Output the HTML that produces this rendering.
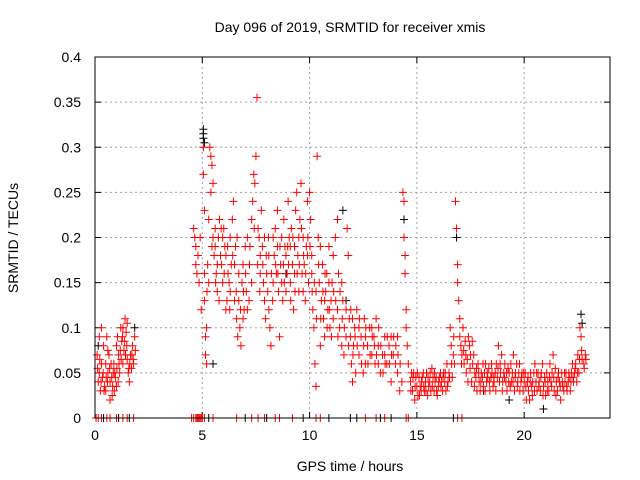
<!DOCTYPE html>
<html><head><meta charset="utf-8"><style>
body{margin:0;background:#fff}
svg{display:block;font-family:"Liberation Sans",sans-serif}
</style></head><body>
<svg id="chart" width="640" height="480" viewBox="0 0 640 480" xmlns="http://www.w3.org/2000/svg">
<text x="350" y="32" font-size="14" text-anchor="middle">Day 096 of 2019, SRMTID for receiver xmis</text>
<text x="350" y="471" font-size="14" text-anchor="middle">GPS time / hours</text>
<text transform="translate(18,238) rotate(-90)" font-size="14" text-anchor="middle">SRMTID / TECUs</text>
<g id="grid"></g>
<g id="ticks"></g>
<g id="blackPts"></g>
<g id="redPts"></g>
<rect x="95" y="57" width="515" height="361" fill="none" stroke="#000" stroke-width="1"/>
</svg>
<script>
const xTicks=[0,5,10,15,20];
const yTicks=[0,0.05,0.1,0.15,0.2,0.25,0.3,0.35,0.4];
const yTickLabels=["0","0.05","0.1","0.15","0.2","0.25","0.3","0.35","0.4"];
const redPoints=[[0.1,.07],[0.15,.04],[0.2,.05],[0.2,.09],[0.25,.03],[0.3,.06],[0.3,.1],[0.35,.045],[0.4,.08],[0.45,.035],[0.5,.06],[0.5,.03],[0.55,.09],[0.6,.05],[0.65,.07],[0.7,.04],[0.75,.06],[0.8,.025],[0.85,.05],[0.9,.03],[0.95,.045],[1.0,.035],[1.0,.08],[1.05,.09],[1.1,.07],[1.15,.05],[1.2,.1],[1.25,.085],[1.3,.06],[1.35,.075],[1.4,.11],[1.45,.095],[1.5,.065],[1.55,.05],[1.6,.04],[1.65,.07],[1.7,.055],[1.75,.08],[1.8,.06],[1.85,.09],[0.7,.02],[0.6,.075],[1.3,.1],[1.5,.105],
[0.12,.055],[0.22,.065],[0.28,.04],[0.38,.05],[0.42,.03],[0.52,.045],[0.58,.04],[0.68,.055],[0.78,.045],[0.82,.035],[0.88,.06],[0.92,.05],[1.02,.055],[1.08,.04],[1.12,.06],[1.18,.075],[1.22,.065],[1.28,.09],[1.38,.085],[1.42,.07],[1.48,.08],[1.58,.055],[1.62,.06],[1.72,.07],[1.78,.065],[1.88,.075],
[4.6,.21],[4.65,.2],[4.7,.19],[4.7,.17],[4.75,.16],[4.8,.18],[4.85,.15],[4.9,.2],[4.95,.12],
[5.05,.3],[5.05,.27],[5.1,.23],[5.1,.16],[5.1,.13],[5.15,.09],[5.15,.07],[5.2,.06],[5.2,.1],[5.25,.17],[5.3,.22],[5.35,.3],[5.4,.29],[5.45,.28],[5.5,.26],[5.4,.25],[5.5,.2],[5.55,.18],[5.6,.19],[5.65,.16],[5.7,.14],[5.75,.2],[5.8,.22],[5.85,.18],[5.9,.17],[5.95,.15],[6.0,.21],[6.05,.19],[6.1,.12],[6.15,.13],[6.2,.16],[6.25,.15],[6.3,.2],[6.35,.17],[6.4,.22],[6.45,.24],[6.5,.13],[6.55,.19],[6.6,.11],[6.65,.09],[6.7,.13],[6.75,.1],[6.8,.08],[6.85,.15],[6.9,.17],[6.95,.12],[7.0,.19],[7.05,.14],[7.1,.2],[7.2,.17],[7.3,.22],[7.35,.24],[7.4,.27],[7.45,.26],[7.5,.29],[7.55,.355],[7.6,.21],[7.65,.2],[7.7,.18],[7.75,.23],[7.8,.19],[7.85,.15],[7.9,.13],[7.95,.11],[8.0,.16],[8.05,.14],[8.1,.12],[8.15,.1],[8.2,.08],[8.3,.15],[8.35,.18],[8.4,.21],[8.45,.16],[8.5,.19],[8.55,.14],[8.6,.09],[8.65,.17],[8.7,.2],[8.75,.13],[8.8,.22],[8.85,.19],[8.9,.18],[8.95,.16],[9.0,.24],[9.05,.2],[9.1,.15],[9.15,.21],[9.2,.17],[9.25,.12],[9.3,.19],[9.35,.23],[9.4,.25],[9.45,.18],[9.5,.14],[9.55,.22],[9.6,.26],[9.65,.16],[9.7,.2],[9.75,.17],[9.8,.13],[9.85,.19],[9.9,.24],[9.95,.15],[10.0,.25],[10.05,.22],[10.1,.18],[10.15,.12],[10.2,.1],[10.25,.06],[10.3,.035],[10.35,.29],[10.4,.2],[10.45,.15],[10.5,.08],[10.55,.13],[10.6,.17],[10.65,.11],[10.7,.09],[10.75,.14],[10.8,.16],[10.85,.12],[10.9,.19],[10.95,.1],[11.0,.13],[11.05,.15],[11.1,.11],[11.2,.2],[11.3,.22],[11.35,.16],[11.4,.1],[11.5,.08],[11.55,.13],[11.6,.07],[11.7,.12],[11.75,.21],[11.8,.18],[11.85,.11],[11.9,.09],[11.95,.06],[12.0,.04],[12.05,.08],[12.1,.1],[12.15,.05],[12.2,.12],[12.3,.07],[12.4,.09],[12.5,.05],[12.55,.11],[12.6,.06],[12.7,.08],[12.8,.1],[12.9,.07],[13.0,.09],[13.05,.06],[13.1,.11],[13.2,.08],[13.3,.05],[13.4,.07],[13.5,.09],[13.6,.06],[13.7,.08],[13.8,.04],[13.9,.07],[14.0,.06],[14.1,.09],[14.2,.03],[14.3,.04],[14.35,.25],[14.4,.24],[14.4,.2],[14.45,.18],[14.45,.16],[14.5,.12],[14.5,.1],[14.55,.08],[14.6,.06],
[5.3,.15],[5.6,.21],[5.7,.17],[5.95,.2],[6.1,.18],[6.3,.14],[6.5,.17],[6.7,.16],[6.9,.11],[7.1,.12],[7.3,.15],[7.7,.16],[7.9,.2],[8.1,.18],[8.3,.2],[8.5,.23],[8.7,.15],[8.9,.14],[9.1,.19],[9.3,.16],[9.5,.2],[9.7,.14],[9.9,.18],[10.1,.16],[10.3,.14],[10.5,.19],[10.7,.13],[10.9,.15],[11.1,.18],[11.3,.12],[11.5,.15],[11.7,.09],[12.0,.11],[12.3,.1],[12.6,.09],[12.9,.1],[13.2,.06],[13.5,.07],[13.8,.09],[14.1,.05],
[5.22,.14],[5.45,.19],[5.62,.15],[5.78,.13],[5.88,.21],[6.02,.16],[6.18,.19],[6.28,.12],[6.42,.18],[6.58,.14],[6.62,.2],[6.78,.12],[6.92,.14],[7.02,.16],[7.18,.13],[7.22,.19],[7.42,.21],[7.58,.17],[7.68,.14],[7.82,.17],[7.98,.18],[8.08,.2],[8.22,.16],[8.28,.13],[8.42,.17],[8.52,.16],[8.62,.19],[8.78,.17],[8.82,.15],[8.98,.19],[9.02,.17],[9.12,.13],[9.22,.2],[9.32,.14],[9.42,.16],[9.52,.17],[9.62,.21],[9.72,.18],[9.82,.16],[9.92,.2],[10.02,.19],[10.12,.14],[10.22,.15],[10.32,.11],[10.42,.17],[10.52,.11],[10.62,.14],[10.72,.16],[10.82,.1],[10.92,.12],[11.02,.09],[11.12,.14],[11.22,.13],[11.32,.09],[11.42,.14],[11.52,.11],[11.62,.1],[11.82,.08],[11.92,.12],[12.02,.07],[12.12,.09],[12.22,.08],[12.32,.11],[12.42,.06],[12.52,.08],[12.62,.1],[12.72,.06],[12.82,.07],[12.92,.09],[13.02,.08],[13.12,.07],[13.22,.1],[13.32,.08],[13.42,.05],[13.52,.06],[13.62,.09],[13.72,.06],[13.82,.07],[13.92,.09],[14.02,.08],[14.12,.07],[14.22,.06],
[14.7,.04],[14.8,.03],[14.85,.05],[14.9,.02],[15.0,.035],[15.1,.045],[15.2,.03],[15.3,.05],[15.4,.04],[15.5,.025],[15.6,.04],[15.7,.055],[15.8,.03],[15.9,.045],[16.0,.035],[16.1,.05],[16.2,.03],[16.3,.04],[16.4,.06],[16.5,.05],[16.6,.08],[16.7,.07],[16.8,.24],[16.85,.21],[16.9,.17],[16.9,.15],[16.95,.13],[17.0,.11],[17.0,.09],[17.1,.07],[17.2,.06],[17.3,.05],[17.4,.09],[17.5,.07],[17.6,.06],[17.7,.05],[17.8,.03],[17.9,.04],[18.0,.05],[18.1,.035],[18.2,.06],[18.3,.045],[18.4,.03],[18.5,.05],[18.6,.04],[18.7,.06],[18.8,.08],[18.9,.05],[19.0,.04],[19.1,.06],[19.2,.03],[19.3,.05],[19.4,.04],[19.5,.07],[19.6,.05],[19.7,.04],[19.8,.03],[19.9,.05],[20.0,.04],[20.1,.02],[20.2,.03],[20.3,.05],[20.4,.04],[20.5,.06],[20.6,.03],[20.7,.04],[20.8,.05],[20.9,.035],[21.0,.025],[21.1,.04],[21.2,.06],[21.3,.05],[21.4,.03],[21.5,.04],[21.6,.05],[21.7,.02],[21.8,.035],[21.9,.04],[22.0,.03],[22.1,.045],[22.2,.05],[22.3,.04],[22.4,.06],[22.5,.07],[22.6,.1],[22.65,.09],[22.7,.065],[22.8,.055],[22.85,.07],
[14.75,.05],[14.95,.045],[15.05,.025],[15.15,.035],[15.25,.045],[15.35,.03],[15.45,.05],[15.55,.035],[15.65,.03],[15.75,.045],[15.85,.04],[15.95,.025],[16.05,.045],[16.15,.04],[16.25,.05],[16.35,.03],[16.45,.04],[16.55,.1],[16.65,.045],[16.75,.06],[17.05,.08],[17.15,.1],[17.25,.085],[17.35,.065],[17.45,.08],[17.55,.04],[17.65,.07],[17.75,.045],[17.85,.06],[17.95,.03],[18.05,.045],[18.15,.05],[18.25,.04],[18.35,.055],[18.45,.045],[18.55,.035],[18.65,.05],[18.75,.045],[18.85,.04],[18.95,.07],[19.05,.05],[19.15,.04],[19.25,.055],[19.35,.035],[19.45,.05],[19.55,.03],[19.65,.06],[19.75,.05],[19.85,.04],[19.95,.03],[20.05,.05],[20.15,.04],[20.25,.02],[20.35,.035],[20.45,.05],[20.55,.04],[20.65,.05],[20.75,.03],[20.85,.06],[20.95,.045],[21.05,.05],[21.15,.03],[21.25,.04],[21.35,.07],[21.45,.055],[21.55,.03],[21.65,.04],[21.75,.05],[21.85,.03],[21.95,.05],[22.05,.04],[22.15,.03],[22.25,.06],[22.35,.05],[22.45,.04],[22.55,.05],
[14.72,.03],[14.82,.045],[14.92,.035],[15.02,.05],[15.12,.025],[15.22,.04],[15.32,.035],[15.42,.03],[15.52,.045],[15.62,.05],[15.72,.035],[15.82,.05],[15.92,.03],[16.02,.04],[16.12,.035],[16.22,.045],[16.32,.05],[16.42,.035],[16.52,.045],[16.62,.06],[16.72,.09],[17.08,.06],[17.18,.075],[17.28,.07],[17.38,.04],[17.48,.055],[17.58,.085],[17.68,.035],[17.78,.055],[17.88,.05],[17.98,.04],[18.08,.06],[18.18,.03],[18.28,.05],[18.38,.04],[18.48,.06],[18.58,.045],[18.68,.03],[18.78,.055],[18.88,.06],[18.98,.03],[19.08,.045],[19.18,.05],[19.28,.04],[19.38,.06],[19.48,.04],[19.58,.045],[19.68,.035],[19.78,.06],[19.88,.045],[19.98,.05],[20.08,.035],[20.18,.045],[20.28,.04],[20.38,.025],[20.48,.03],[20.58,.05],[20.68,.035],[20.78,.045],[20.88,.025],[20.98,.04],[21.08,.03],[21.18,.045],[21.28,.035],[21.38,.045],[21.48,.025],[21.58,.045],[21.68,.035],[21.78,.04],[21.88,.05],[21.98,.035],[22.08,.05],[22.18,.04],[22.28,.045],[22.38,.055],[22.48,.05],[22.58,.065],[22.68,.075],[22.78,.06],[22.88,.065]];
const redZeroTimes=[0.05,0.15,0.3,0.55,0.7,1.0,1.3,1.5,1.8,4.5,4.6,4.7,4.75,4.8,4.85,4.9,4.95,5.0,5.1,5.5,6.6,7.3,7.6,7.9,8.4,8.6,9.2,10.3,10.5,12.6,13.1,13.5,14.5,14.6,16.9,17.1];
const blackPoints=[[5.05,.32],[5.05,.315],[5.05,.31],[5.1,.305],[16.85,.2],[22.65,.115],[22.7,.105],[14.4,.22],[11.55,.23],[11.7,.13],[18.1,.03],[0.15,.08],[1.85,.1],[9.3,.19],[8.9,.16],[5.5,.06],[19.3,.02],[20.9,.01]];
const blackZeroTimes=[0.4,1.1,1.6,5.3,7.0,8.0,9.7,10.9,11.9,12.2,13.3,13.8,16.7];

const NS="http://www.w3.org/2000/svg";
const X0=95,X1=610,Y0=418,Y1=57;
const sx=t=>X0+(t/24)*(X1-X0);
const sy=v=>Y0-(v/0.4)*(Y0-Y1);
function mk(tag,attrs,parent){const e=document.createElementNS(NS,tag);for(const k in attrs)e.setAttribute(k,attrs[k]);parent.appendChild(e);return e;}
const grid=document.getElementById('grid'),ticks=document.getElementById('ticks');
xTicks.forEach(t=>{
  const x=sx(t);
  if(t>0){const g=mk('line',{x1:x,y1:Y1,x2:x,y2:Y0,stroke:'#a0a0a0','stroke-dasharray':'2,3'},grid);
  
  }
  mk('line',{x1:x,y1:Y0,x2:x,y2:Y0-6,stroke:'#000'},ticks);
  mk('line',{x1:x,y1:Y1,x2:x,y2:Y1+6,stroke:'#000'},ticks);
  const l=mk('text',{x:x,y:Y0+22,'font-size':14,'text-anchor':'middle'},ticks);
  l.textContent=t;
  
  
});
yTicks.forEach((v,i)=>{
  const y=sy(v);
  if(i>0&&i<yTicks.length-1){const g=mk('line',{x1:X0,y1:y,x2:X1,y2:y,stroke:'#a0a0a0','stroke-dasharray':'2,3'},grid);
  
  }
  mk('line',{x1:X0,y1:y,x2:X0+6,y2:y,stroke:'#000'},ticks);
  mk('line',{x1:X1,y1:y,x2:X1-6,y2:y,stroke:'#000'},ticks);
  const l=mk('text',{x:X0-14,y:y+5,'font-size':14,'text-anchor':'end'},ticks);
  l.textContent=yTickLabels[i];
  
  
});
function plus(g,t,v,c){
  const x=sx(t),y=sy(v);
  const p=mk('path',{d:`M${x-4},${y}H${x+4}M${x},${y-4}V${y+4}`,stroke:c,'stroke-width':1,fill:'none'},g);
  
  
}
const bg=document.getElementById('blackPts'),rg=document.getElementById('redPts');
blackPoints.forEach(p=>plus(bg,p[0],p[1],'#000'));
blackZeroTimes.forEach(t=>plus(bg,t,0,'#000'));
redPoints.forEach(p=>plus(rg,p[0],p[1],'#f00'));
redZeroTimes.forEach(t=>plus(rg,t,0,'#f00'));
</script>
</body></html>
